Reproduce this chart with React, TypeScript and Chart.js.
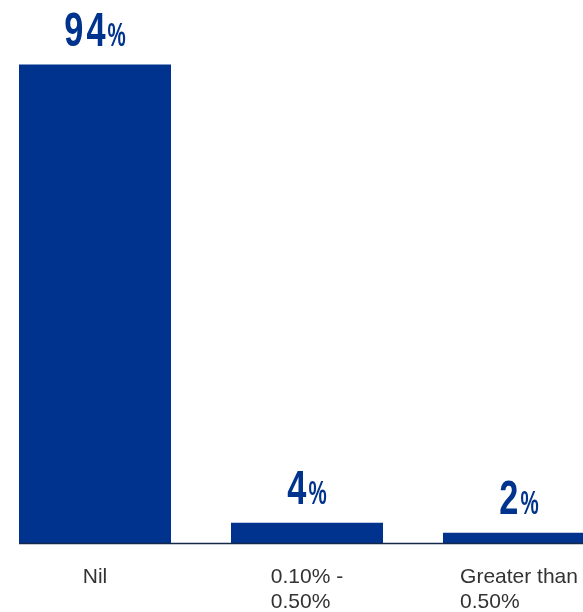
import React, { useEffect, useRef } from "react";
import { Chart, registerables } from "chart.js";

Chart.register(...registerables);

const categories: string[][] = [["Nil"], ["0.10% -", "0.50%"], ["Greater than", "0.50%"]];
const values: number[] = [94, 4, 2];
const valueLabels: string[] = ["94", "4", "2"];

const BLUE = "#00338D";
const AXIS = "#14284B";
const TEXT = "#333333";

const overlayPlugin = {
  id: "overlay",
  afterDatasetsDraw(chart: any) {
    const { ctx, chartArea } = chart;
    const xScale = chart.scales.x;
    const meta = chart.getDatasetMeta(0);
    ctx.save();
    // baseline axis from first bar's left edge
    const first = meta.data[0] as any;
    const startX = first.x - first.width / 2;
    ctx.strokeStyle = AXIS;
    ctx.lineWidth = 1.6;
    ctx.beginPath();
    ctx.moveTo(startX, chartArea.bottom + 0.5);
    ctx.lineTo(chart.width, chartArea.bottom + 0.5);
    ctx.stroke();

    // value labels
    meta.data.forEach((bar: any, i: number) => {
      const digits = valueLabels[i];
      const digitFont = "bold 49px 'Liberation Sans', Arial, sans-serif";
      const pctFont = "bold 33px 'Liberation Sans', Arial, sans-serif";
      const sx1 = 0.7;
      const sx2 = 0.62;
      const gapDigit = 3; // px, in scaled units
      const gapPct = 2;
      ctx.font = digitFont;
      const dw = digits.split("").map((d) => ctx.measureText(d).width * sx1);
      const w1 = dw.reduce((a, b) => a + b, 0) + gapDigit * (digits.length - 1);
      ctx.font = pctFont;
      const w2 = ctx.measureText("%").width * sx2;
      const total = w1 + gapPct + w2;
      const left = bar.x - total / 2;
      const baseY = bar.y - 19;
      ctx.fillStyle = BLUE;
      ctx.textBaseline = "alphabetic";
      ctx.textAlign = "left";
      let x = left;
      digits.split("").forEach((d, k) => {
        ctx.save();
        ctx.translate(x, baseY);
        ctx.scale(sx1, 1);
        ctx.font = digitFont;
        ctx.fillText(d, 0, 0);
        ctx.restore();
        x += dw[k] + gapDigit;
      });
      ctx.save();
      ctx.translate(left + w1 + gapPct, baseY);
      ctx.scale(sx2, 1);
      ctx.font = pctFont;
      ctx.fillText("%", 0, 0);
      ctx.restore();
    });

    // category labels: left-aligned block centred under each bar
    ctx.font = "21px 'Liberation Sans', Arial, sans-serif";
    ctx.fillStyle = TEXT;
    ctx.textAlign = "left";
    ctx.textBaseline = "alphabetic";
    categories.forEach((lines, i) => {
      const cx = xScale.getPixelForTick(i);
      const maxW = Math.max(...lines.map((l) => ctx.measureText(l).width));
      const lx = cx - maxW / 2;
      lines.forEach((line, j) => {
        ctx.fillText(line, lx, chartArea.bottom + 39.5 + j * 25);
      });
    });
    ctx.restore();
  },
};

export default function App() {
  const canvasRef = useRef<HTMLCanvasElement | null>(null);

  useEffect(() => {
    if (!canvasRef.current) return;
    const chart = new Chart(canvasRef.current, {
      type: "bar",
      data: {
        labels: categories.map((c) => c.join(" ")),
        datasets: [
          {
            data: values,
            backgroundColor: BLUE,
            borderWidth: 0,
            barPercentage: 0.717,
            categoryPercentage: 1,
          },
        ],
      },
      options: {
        animation: false,
        responsive: false,
        maintainAspectRatio: false,
        devicePixelRatio: 1,
        layout: { padding: { top: 34, bottom: 69, left: 0, right: 0 } },
        plugins: { legend: { display: false }, tooltip: { enabled: false } },
        scales: {
          x: { display: false },
          y: { display: false, min: 0, max: 100 },
        },
      },
      plugins: [overlayPlugin],
    });
    return () => chart.destroy();
  }, []);

  return (
    <div
      style={{
        position: "fixed",
        left: 0,
        top: 0,
        width: 583,
        height: 612,
        overflow: "hidden",
        background: "#ffffff",
      }}
    >
      <canvas
        ref={canvasRef}
        width={636}
        height={612}
        style={{ position: "absolute", left: -11, top: 0, width: 636, height: 612 }}
      />
    </div>
  );
}
